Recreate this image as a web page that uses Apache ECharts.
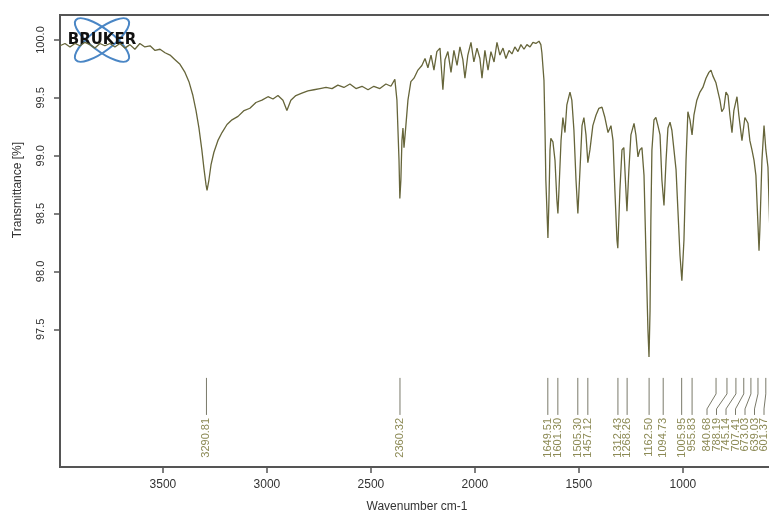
<!DOCTYPE html>
<html>
<head>
<meta charset="utf-8">
<script src="https://cdn.jsdelivr.net/npm/echarts@6/dist/echarts.min.js"></script>
<style>
  html, body { margin: 0; padding: 0; background: #fff; }
  #chart { width: 769px; height: 521px; }
</style>
</head>
<body>
<div id="chart"></div>
<script>
// spectrum (wavenumber cm-1 / transmittance %)
const wavenumbers = [
  3995, 3971, 3947, 3923, 3899, 3875, 3851, 3827, 3803, 3779,
  3755, 3731, 3707, 3683, 3659, 3635, 3611, 3587, 3562, 3538,
  3514, 3490, 3466, 3442, 3418, 3394, 3375, 3356, 3341, 3327,
  3313, 3303, 3293, 3288, 3279, 3269, 3255, 3236, 3216, 3192,
  3168, 3139, 3110, 3082, 3053, 3024, 2995, 2971, 2947, 2923,
  2904, 2885, 2861, 2832, 2803, 2774, 2745, 2716, 2687, 2659,
  2630, 2601, 2572, 2543, 2514, 2486, 2457, 2428, 2404, 2385,
  2375, 2365, 2361, 2356, 2351, 2346, 2341, 2332, 2322, 2308,
  2293, 2274, 2255,
  2240, 2226, 2211, 2197, 2183, 2168, 2159, 2154, 2144, 2130,
  2115, 2101, 2086, 2072, 2058, 2048, 2034, 2019, 2005, 1990,
  1976, 1966, 1952, 1937, 1923, 1908, 1894, 1880, 1865, 1851,
  1836, 1822, 1808, 1793, 1779, 1764, 1750, 1735, 1721, 1707,
  1692, 1683, 1678, 1668, 1663, 1659, 1649, 1644, 1639, 1635,
  1625, 1615, 1606, 1601, 1596, 1586, 1577, 1567, 1558, 1543,
  1534, 1524, 1514, 1505, 1495, 1485, 1476, 1466, 1457, 1447,
  1433, 1418, 1404, 1389, 1375, 1360, 1346, 1336, 1327, 1317,
  1313, 1303, 1293, 1284, 1274, 1269, 1260, 1250, 1235, 1226,
  1216, 1207, 1197, 1187, 1178, 1168, 1163, 1158, 1154, 1149,
  1139, 1130, 1120, 1110, 1101, 1091, 1081, 1072, 1062, 1053,
  1043, 1033, 1024, 1014, 1005, 995, 985, 976, 966, 956,
  947, 933, 918, 904, 889, 875, 865, 856, 841, 831,
  822, 813, 803, 793, 783, 774, 764, 755, 740, 731,
  716, 702, 687, 678, 668, 658, 649, 639, 634, 630,
  620, 610, 601, 591, 582
]
const transmittance = [
  99.95, 99.97, 99.94, 99.97, 99.95, 99.98, 99.96, 99.93, 99.97, 99.95,
  99.97, 99.94, 99.97, 99.93, 99.96, 99.92, 99.97, 99.94, 99.95, 99.91,
  99.92, 99.89, 99.87, 99.83, 99.79, 99.72, 99.64, 99.52, 99.39, 99.24,
  99.05, 98.89, 98.75, 98.70, 98.79, 98.92, 99.03, 99.13, 99.20, 99.27,
  99.31, 99.34, 99.39, 99.41, 99.46, 99.48, 99.51, 99.49, 99.52, 99.48,
  99.39, 99.48, 99.52, 99.54, 99.56, 99.57, 99.58, 99.59, 99.58, 99.61,
  99.59, 99.62, 99.58, 99.60, 99.57, 99.60, 99.58, 99.62, 99.60, 99.66,
  99.48, 98.96, 98.63, 98.79, 99.13, 99.24, 99.07, 99.26, 99.48, 99.64,
  99.67, 99.74, 99.78,
  99.84, 99.76, 99.87, 99.74, 99.90, 99.93, 99.70, 99.57, 99.83, 99.90,
  99.72, 99.91, 99.78, 99.94, 99.83, 99.67, 99.87, 99.98, 99.81, 99.93,
  99.84, 99.67, 99.91, 99.74, 99.90, 99.81, 99.98, 99.87, 99.93, 99.84,
  99.91, 99.88, 99.94, 99.90, 99.96, 99.92, 99.96, 99.94, 99.98, 99.97,
  99.99, 99.96, 99.89, 99.65, 99.22, 98.79, 98.29, 98.62, 99.05, 99.15,
  99.12, 98.96, 98.62, 98.50, 98.70, 99.13, 99.33, 99.20, 99.44, 99.55,
  99.48, 99.22, 98.79, 98.50, 98.87, 99.26, 99.33, 99.18, 98.94, 99.05,
  99.26, 99.35, 99.41, 99.42, 99.33, 99.20, 99.26, 99.13, 98.70, 98.27,
  98.20, 98.70, 99.05, 99.07, 98.70, 98.52, 98.87, 99.18, 99.28, 99.18,
  98.99, 99.05, 99.07, 98.83, 98.18, 97.49, 97.26, 97.66, 98.44, 99.05,
  99.31, 99.33, 99.26, 99.18, 98.79, 98.57, 98.96, 99.24, 99.29, 99.22,
  99.05, 98.88, 98.53, 98.14, 97.92, 98.27, 98.96, 99.38, 99.31, 99.18,
  99.35, 99.48, 99.55, 99.59, 99.67, 99.72, 99.74, 99.69, 99.63, 99.55,
  99.48, 99.38, 99.41, 99.55, 99.52, 99.35, 99.20, 99.39, 99.51, 99.35,
  99.13, 99.33, 99.28, 99.13, 99.05, 98.96, 98.83, 98.40, 98.18, 98.36,
  98.96, 99.26, 99.05, 98.90, 98.36
]

// picked peaks and their printed labels
const peakPositions = [
  3290.81, 2360.32, 1649.51, 1601.30, 1505.30, 1457.12, 1312.43, 1268.26,
  1162.50, 1094.73, 1005.95, 955.83, 840.68, 788.19, 745.14, 707.41,
  673.03, 639.03, 601.37
]
const peakLabels = peakPositions.map(p => p.toFixed(2))

const xTicks = [3500, 3000, 2500, 2000, 1500, 1000]
const yTicks = [97.5, 98.0, 98.5, 99.0, 99.5, 100.0]

const spectrum = wavenumbers.map((w, i) => [w, transmittance[i]])

// spread crowded peak labels to the left, keep them inside the picture
const placeLabels = (xs) => {
  const out = xs.slice()
  const gap = 9.5
  const maxX = 764
  for (let i = out.length - 1; i >= 0; i--) {
    const lim = i === out.length - 1 ? maxX : out[i + 1] - gap
    out[i] = Math.min(out[i], lim)
  }
  return out
}

const chart = echarts.init(document.getElementById('chart'))

const axisColor = '#555'
const lineColor = '#66653a'

chart.setOption({
  animation: false,
  backgroundColor: '#fff',
  grid: {
    left: 60,
    top: 15,
    width: 714,
    bottom: 54,
    outerBoundsMode: 'none',
    show: true,
    borderColor: axisColor,
    borderWidth: 2
  },
  xAxis: {
    type: 'value',
    inverse: true,
    min: 562,
    max: 3995,
    name: 'Wavenumber cm-1',
    nameLocation: 'middle',
    nameGap: 34,
    nameTextStyle: { color: '#333', fontSize: 12, fontFamily: 'Liberation Sans' },
    axisLine: { show: true, lineStyle: { color: axisColor, width: 2 } },
    axisTick: { show: true, customValues: xTicks, length: 6, lineStyle: { color: axisColor, width: 1.5 } },
    axisLabel: {
      customValues: xTicks,
      margin: 12,
      color: '#333',
      fontSize: 12,
      fontFamily: 'Liberation Sans',
      formatter: v => String(v)
    },
    splitLine: { show: false }
  },
  yAxis: {
    type: 'value',
    min: 96.31,
    max: 100.216,
    axisLine: { show: true, lineStyle: { color: axisColor, width: 2 } },
    axisTick: { show: true, customValues: yTicks, length: 6, lineStyle: { color: axisColor, width: 1.5 } },
    axisLabel: {
      customValues: yTicks,
      rotate: 90,
      margin: 14,
      color: '#333',
      fontSize: 11,
      fontFamily: 'Liberation Sans',
      formatter: v => v.toFixed(1)
    },
    splitLine: { show: false }
  },
  graphic: [
    {
      type: 'text',
      x: 18,
      y: 190,
      rotation: Math.PI / 2,
      style: {
        text: 'Transmittance [%]',
        fontSize: 12,
        fontFamily: 'Liberation Sans',
        fill: '#333',
        align: 'center',
        verticalAlign: 'middle'
      }
    },
    {
      type: 'ellipse',
      shape: { cx: 0, cy: 0, rx: 33, ry: 11 },
      x: 102, y: 40,
      rotation: 0.65,
      style: { fill: 'none', stroke: '#4a86c5', lineWidth: 2 }
    },
    {
      type: 'ellipse',
      shape: { cx: 0, cy: 0, rx: 33, ry: 11 },
      x: 102, y: 40,
      rotation: -0.65,
      style: { fill: 'none', stroke: '#4a86c5', lineWidth: 2 }
    },
    {
      type: 'text',
      x: 102,
      y: 40,
      style: {
        text: 'BRUKER',
        fontSize: 15,
        fontWeight: 'bold',
        fontFamily: 'DejaVu Sans',
        fill: '#111',
        align: 'center',
        verticalAlign: 'middle'
      }
    }
  ],
  series: [
    {
      type: 'line',
      data: spectrum,
      showSymbol: false,
      lineStyle: { color: lineColor, width: 1.3 },
      z: 3
    },
    {
      type: 'custom',
      data: peakPositions.map((p, i) => [p, i]),
      clip: false,
      renderItem: (params, api) => {
        const i = params.dataIndex
        const xs = peakPositions.map(p => api.coord([p, 97.08])[0])
        const lx = placeLabels(xs)
        const top = api.coord([peakPositions[i], 97.08])[1]
        const bottom = api.coord([peakPositions[i], 96.76])[1]
        const px = xs[i]
        const tx = lx[i]
        const pts = Math.abs(px - tx) < 0.5
          ? [[px, top], [px, bottom]]
          : [[px, top], [px, top + 16], [tx, bottom - 6], [tx, bottom]]
        return {
          type: 'group',
          children: [
            {
              type: 'polyline',
              shape: { points: pts },
              style: { stroke: '#7a7a6a', lineWidth: 1, fill: null }
            },
            {
              type: 'text',
              x: tx,
              y: bottom + 3,
              rotation: Math.PI / 2,
              style: {
                text: peakLabels[i],
                fontSize: 11,
                fontFamily: 'Liberation Sans',
                fill: '#8c8a55',
                align: 'right',
                verticalAlign: 'middle'
              }
            }
          ]
        }
      },
      z: 2
    }
  ]
})
</script>
</body>
</html>
